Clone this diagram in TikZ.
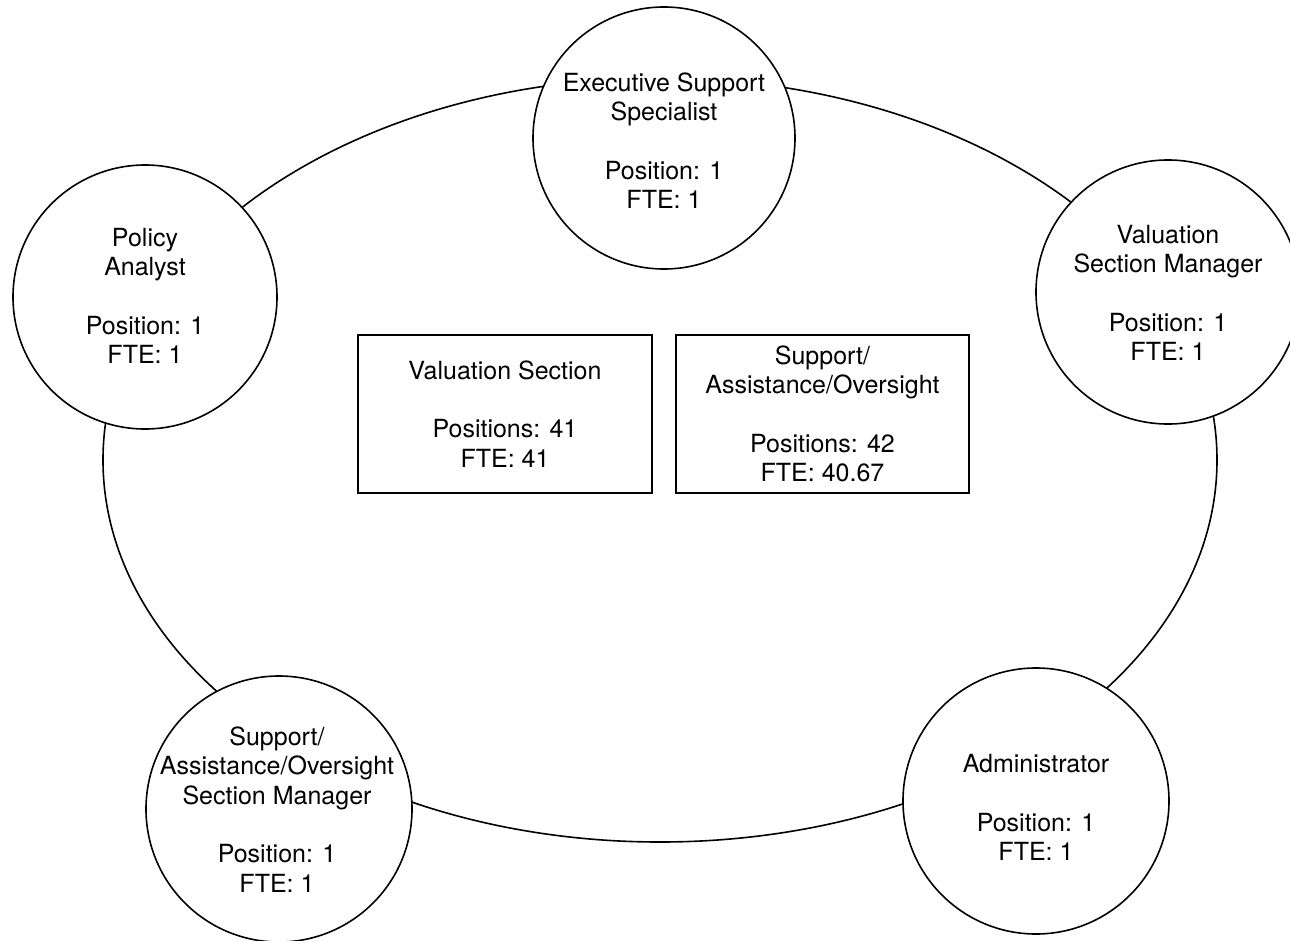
\documentclass[tikz,border=0pt]{standalone}
\usepackage{fontspec}
\setmainfont{TeX Gyre Heros}
\begin{document}
\begin{tikzpicture}[x=1bp,y=-1bp,
  line width=1.6bp,
  role/.style={draw, circle, fill=white, inner sep=0pt, minimum size=#1},
  unit/.style={draw, rectangle, fill=white, inner sep=0pt,
               minimum width=294bp, minimum height=158bp,
               align=center, font=\fontsize{25bp}{29.3bp}\selectfont},
  caption/.style={align=center, inner sep=0pt,
                  font=\fontsize{25bp}{29.3bp}\selectfont}]
\useasboundingbox (0,0) rectangle (1290,941);

% ring linking the positions
\draw (660,460) ellipse [x radius=557bp, y radius=382bp];

% positions on the ring
\node[role=262bp] (exec) at (664,138) {};
\node[role=264bp] (policy) at (145,297) {};
\node[role=264bp] (valmgr) at (1168,292) {};
\node[role=266bp] (saomgr) at (279,809) {};
\node[role=266bp] (admin) at (1036,801) {};

\node[caption] (exect) at (664,140.5)
  {Executive Support\\Specialist\\[29.3bp]Position: 1\\FTE: 1};
\node[caption] (policyt) at (145,296)
  {Policy\\Analyst\\[29.3bp]Position: 1\\FTE: 1};
\node[caption] (valmgrt) at (1168,293)
  {Valuation\\Section Manager\\[29.3bp]Position: 1\\FTE: 1};
\node[caption] (saomgrt) at (277,809.5)
  {Support/\\Assistance/Oversight\\Section Manager\\[29.3bp]Position: 1\\FTE: 1};
\node[caption] (admint) at (1036,807.5)
  {Administrator\\[29.3bp]Position: 1\\FTE: 1};

% sections in the middle
\node[unit] (valsec) at (505,414)
  {Valuation Section\\[29.3bp]Positions: 41\\FTE: 41};
\node[unit, minimum width=293bp] (saosec) at (822.5,414)
  {Support/\\Assistance/Oversight\\[29.3bp]Positions: 42\\FTE: 40.67};
\end{tikzpicture}
\end{document}
